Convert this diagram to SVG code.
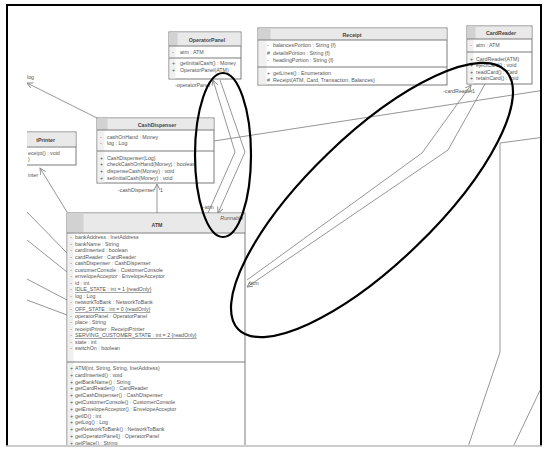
<svg xmlns="http://www.w3.org/2000/svg" width="547" height="451" viewBox="0 0 547 451">
<style>
.box{fill:#fff;stroke:#7a7a7a;stroke-width:1}
.hdr{fill:#e9e9e9;stroke:none}
.hs{fill:#d2d2d2;stroke:none}
.bs{fill:#f0f0f0;stroke:none}
.dv{stroke:#7a7a7a;stroke-width:1}
.t{font-family:"Liberation Sans",Arial,sans-serif;font-size:5.3px;fill:#555}
.h{font-weight:bold;text-anchor:middle;fill:#444}
.u{text-decoration:underline}
.i{font-style:italic;text-anchor:end}
.ln{stroke:#8a8a8a;stroke-width:0.9;fill:none}
.ell{stroke:#000;stroke-width:2.2;fill:none}
</style>
<defs>
<marker id="ar" markerWidth="8" markerHeight="8" refX="6" refY="3" orient="auto-start-reverse" markerUnits="userSpaceOnUse"><path d="M0,0 L6,3 L0,6" fill="none" stroke="#8a8a8a" stroke-width="0.9"/></marker>
<clipPath id="scr"><rect x="27" y="5" width="514" height="440"/></clipPath>
</defs>
<rect x="0" y="0" width="547" height="451" fill="#fff"/>
<g clip-path="url(#scr)">
<g id="connectors">
<path class="ln" d="M27,83 L97,118" marker-start="url(#ar)"/>
<path class="ln" d="M40,168 L67,212" marker-start="url(#ar)"/>
<path class="ln" d="M27,212 L67,253"/>
<path class="ln" d="M27,240 L67,272"/>
<path class="ln" d="M27,279 L67,300"/>
<path class="ln" d="M27,300 L67,315"/>
<path class="ln" d="M157,184 L157,213" marker-start="url(#ar)"/>
<path class="ln" d="M213,80 L235,152 L208,213" marker-start="url(#ar)"/>
<path class="ln" d="M220,80 L245,152 L218,213" marker-end="url(#ar)"/>
<path class="ln" d="M214,141 L545,90"/>
<path class="ln" d="M471,85 L422,153 L247,280" marker-start="url(#ar)"/>
<path class="ln" d="M485,84 L448,150 L247,287" marker-end="url(#ar)"/>
<path class="ln" d="M545,137 L500,143 L500,352 L468,447"/>
<path class="ln" d="M545,380 L513,447"/>
</g>
<g id="ReceiptPrinter">
<rect class="box" x="-20" y="132" width="96" height="33"/>
<rect class="hdr" x="-19.5" y="132.5" width="95" height="14"/>
<line class="dv" x1="-20" y1="147" x2="76" y2="147"/>
</g>
</g>
<g id="ReceiptPrinterText">
<text class="t h" x="55" y="142" style="text-anchor:end">tPrinter</text>
<text class="t" x="28" y="155">eceipt() : void</text>
<text class="t" x="28" y="161">)</text>
</g>
<g id="labels">
<text class="t" x="27" y="79">log</text>
<text class="t" x="28" y="177">inter</text>
<text class="t" x="118" y="192">-cashDispenser</text>
<text class="t" x="160" y="192">1</text>
<text class="t" x="175" y="87">-operatorPanel</text>
<text class="t" x="203" y="209">-atm</text>
<text class="t" x="443" y="93">-cardReader</text>
<text class="t" x="472" y="93">1</text>
<text class="t" x="248" y="285">-atm</text>
</g>
<g id="OperatorPanel">
<rect class="box" x="169" y="32" width="72" height="47"/>
<rect class="hdr" x="169.5" y="32.5" width="71" height="13.5"/>
<rect class="hs" x="169.5" y="32.5" width="8" height="13.5"/>
<rect class="bs" x="169.5" y="46.5" width="6" height="32"/>
<line class="dv" x1="169" y1="46" x2="241" y2="46"/>
<line class="dv" x1="169" y1="58" x2="241" y2="58"/>
<text class="t h" x="207" y="42">OperatorPanel</text>
<text class="t" x="172" y="54">-</text><text class="t" x="180" y="54">atm : ATM</text>
<text class="t" x="172" y="65">+</text><text class="t" x="180" y="65">getInitialCash() : Money</text>
<text class="t" x="172" y="72">+</text><text class="t" x="180" y="72">OperatorPanel(ATM)</text>
</g>
<g id="Receipt">
<rect class="box" x="258" y="28" width="189" height="57"/>
<rect class="hdr" x="258.5" y="28.5" width="188" height="11.5"/>
<rect class="hs" x="258.5" y="28.5" width="12" height="11.5"/>
<rect class="bs" x="258.5" y="40.5" width="8" height="44"/>
<line class="dv" x1="258" y1="40" x2="447" y2="40"/>
<line class="dv" x1="258" y1="67" x2="447" y2="67"/>
<text class="t h" x="352" y="36.5">Receipt</text>
<text class="t" x="267" y="47">-</text><text class="t" x="273" y="47">balancesPortion : String {f}</text>
<text class="t" x="267" y="54.5">#</text><text class="t" x="273" y="54.5">detailsPortion : String {f}</text>
<text class="t" x="267" y="61.5">-</text><text class="t" x="273" y="61.5">headingPortion : String {f}</text>
<text class="t" x="267" y="75">+</text><text class="t" x="273" y="75">getLines() : Enumeration</text>
<text class="t" x="267" y="82">#</text><text class="t" x="273" y="82">Receipt(ATM, Card, Transaction, Balances)</text>
</g>
<g id="CardReader">
<rect class="box" x="467" y="26" width="65" height="58"/>
<rect class="hdr" x="467.5" y="26.5" width="64" height="12.5"/>
<rect class="hs" x="467.5" y="26.5" width="8" height="12.5"/>
<rect class="bs" x="467.5" y="39.5" width="6" height="44"/>
<line class="dv" x1="467" y1="39" x2="532" y2="39"/>
<line class="dv" x1="467" y1="52" x2="532" y2="52"/>
<text class="t h" x="501" y="35">CardReader</text>
<text class="t" x="470" y="47">-</text><text class="t" x="476" y="47">atm : ATM</text>
<text class="t" x="470" y="60.5">+</text><text class="t" x="476" y="60.5">CardReader(ATM)</text>
<text class="t" x="470" y="67">+</text><text class="t" x="476" y="67">ejectCard() : void</text>
<text class="t" x="470" y="73.5">+</text><text class="t" x="476" y="73.5">readCard() : Card</text>
<text class="t" x="470" y="80">+</text><text class="t" x="476" y="80">retainCard() : void</text>
</g>
<g id="CashDispenser">
<rect class="box" x="97" y="118" width="117" height="65"/>
<rect class="hdr" x="97.5" y="118.5" width="116" height="11.5"/>
<rect class="hs" x="97.5" y="118.5" width="10" height="11.5"/>
<rect class="bs" x="97.5" y="130.5" width="7" height="52"/>
<line class="dv" x1="97" y1="130" x2="214" y2="130"/>
<line class="dv" x1="97" y1="151" x2="214" y2="151"/>
<text class="t h" x="157" y="126.5">CashDispenser</text>
<text class="t" x="100" y="139">-</text><text class="t" x="107" y="139">cashOnHand : Money</text>
<text class="t" x="100" y="145">-</text><text class="t" x="107" y="145">log : Log</text>
<text class="t" x="100" y="160">+</text><text class="t" x="107" y="160">CashDispenser(Log)</text>
<text class="t" x="100" y="166">+</text><text class="t" x="107" y="166">checkCashOnHand(Money) : boolean</text>
<text class="t" x="100" y="173">+</text><text class="t" x="107" y="173">dispenseCash(Money) : void</text>
<text class="t" x="100" y="180">+</text><text class="t" x="107" y="180">setInitialCash(Money) : void</text>
</g>
<g id="ATM" clip-path="url(#scr)">
<rect class="box" x="67" y="213" width="178" height="250"/>
<rect class="hdr" x="67.5" y="213.5" width="177" height="19"/>
<rect class="hs" x="67.5" y="213.5" width="16" height="19"/>
<rect class="bs" x="67.5" y="233" width="6" height="230"/>
<line class="dv" x1="67" y1="233" x2="245" y2="233"/>
<line class="dv" x1="67" y1="362" x2="245" y2="362"/>
<text class="t h" x="157" y="227">ATM</text>
<text class="t i" x="243" y="220">Runnable</text>
<g>
<text class="t" x="70" y="238.9">-</text><text class="t" x="75" y="238.9">bankAddress : InetAddress</text>
<text class="t" x="70" y="245.5">-</text><text class="t" x="75" y="245.5">bankName : String</text>
<text class="t" x="70" y="252">-</text><text class="t" x="75" y="252">cardInserted : boolean</text>
<text class="t" x="70" y="258.6">-</text><text class="t" x="75" y="258.6">cardReader : CardReader</text>
<text class="t" x="70" y="265.1">-</text><text class="t" x="75" y="265.1">cashDispenser : CashDispenser</text>
<text class="t" x="70" y="271.7">-</text><text class="t" x="75" y="271.7">customerConsole : CustomerConsole</text>
<text class="t" x="70" y="278.2">-</text><text class="t" x="75" y="278.2">envelopeAcceptor : EnvelopeAcceptor</text>
<text class="t" x="70" y="284.8">-</text><text class="t" x="75" y="284.8">id : int</text>
<text class="t" x="70" y="291.3">-</text><text class="t u" x="75" y="291.3">IDLE_STATE : int = 1 {readOnly}</text>
<text class="t" x="70" y="297.9">-</text><text class="t" x="75" y="297.9">log : Log</text>
<text class="t" x="70" y="304.4">-</text><text class="t" x="75" y="304.4">networkToBank : NetworkToBank</text>
<text class="t" x="70" y="311">-</text><text class="t u" x="75" y="311">OFF_STATE : int = 0 {readOnly}</text>
<text class="t" x="70" y="317.5">-</text><text class="t" x="75" y="317.5">operatorPanel : OperatorPanel</text>
<text class="t" x="70" y="324.1">-</text><text class="t" x="75" y="324.1">place : String</text>
<text class="t" x="70" y="330.6">-</text><text class="t" x="75" y="330.6">receiptPrinter : ReceiptPrinter</text>
<text class="t" x="70" y="337.2">-</text><text class="t u" x="75" y="337.2">SERVING_CUSTOMER_STATE : int = 2 {readOnly}</text>
<text class="t" x="70" y="343.7">-</text><text class="t" x="75" y="343.7">state : int</text>
<text class="t" x="70" y="350.3">-</text><text class="t" x="75" y="350.3">switchOn : boolean</text>
</g>
<g>
<text class="t" x="70" y="369.9">+</text><text class="t" x="75" y="369.9">ATM(int, String, String, InetAddress)</text>
<text class="t" x="70" y="376.7">+</text><text class="t" x="75" y="376.7">cardInserted() : void</text>
<text class="t" x="70" y="383.5">+</text><text class="t" x="75" y="383.5">getBankName() : String</text>
<text class="t" x="70" y="390.3">+</text><text class="t" x="75" y="390.3">getCardReader() : CardReader</text>
<text class="t" x="70" y="397.1">+</text><text class="t" x="75" y="397.1">getCashDispenser() : CashDispenser</text>
<text class="t" x="70" y="403.9">+</text><text class="t" x="75" y="403.9">getCustomerConsole() : CustomerConsole</text>
<text class="t" x="70" y="410.7">+</text><text class="t" x="75" y="410.7">getEnvelopeAcceptor() : EnvelopeAcceptor</text>
<text class="t" x="70" y="417.5">+</text><text class="t" x="75" y="417.5">getID() : int</text>
<text class="t" x="70" y="424.3">+</text><text class="t" x="75" y="424.3">getLog() : Log</text>
<text class="t" x="70" y="431.1">+</text><text class="t" x="75" y="431.1">getNetworkToBank() : NetworkToBank</text>
<text class="t" x="70" y="437.9">+</text><text class="t" x="75" y="437.9">getOperatorPanel() : OperatorPanel</text>
<text class="t" x="70" y="444.7">+</text><text class="t" x="75" y="444.7">getPlace() : String</text>
</g>
</g>
<g id="annotations">
<ellipse class="ell" cx="223" cy="155" rx="28" ry="82"/>
<ellipse class="ell" cx="372" cy="200" rx="186" ry="64" transform="rotate(-44 372 200)"/>
</g>
<path d="M7,446 L7,5 L541,5 L541,446" fill="none" stroke="#000" stroke-width="2"/>
<line x1="6" y1="446" x2="542" y2="446" stroke="#bbb" stroke-width="1.5"/>
</svg>
